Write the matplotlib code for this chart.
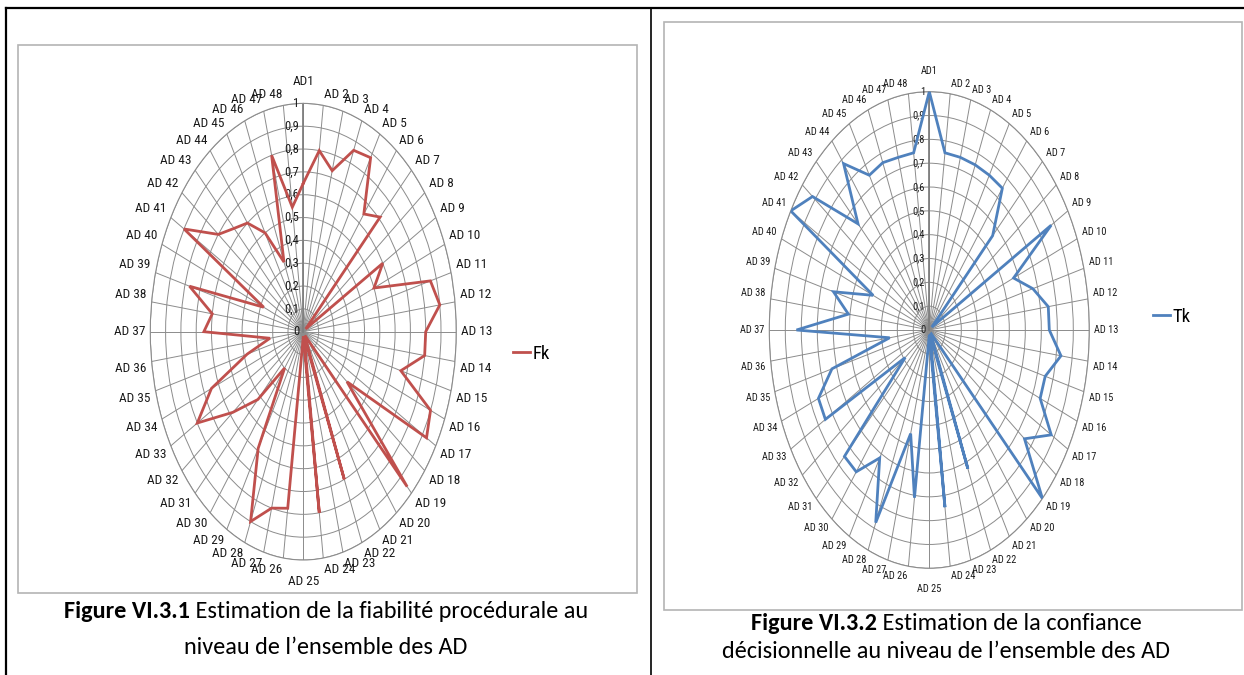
import numpy as np
import matplotlib
matplotlib.use("Agg")
import matplotlib.pyplot as plt
from matplotlib import font_manager
from matplotlib.lines import Line2D
from matplotlib.patches import Rectangle

# ---------------- data ----------------
categories = ["AD1"] + [f"AD {i}" for i in range(2, 49)]
fk_values = [0.65, 0.80, 0.73, 0.86, 0.88, 0.65, 0.71, 0.02, 0.60, 0.50,
             0.86, 0.90, 0.80, 0.80, 0.66, 0.90, 0.93, 0.36, 0.96, 0.03,
             0.02, 0.70, 0.02, 0.80, 0.02, 0.78, 0.80, 0.90, 0.59, 0.20,
             0.42, 0.58, 0.80, 0.65, 0.38, 0.22, 0.65, 0.60, 0.77, 0.28,
             0.90, 0.70, 0.64, 0.60, 0.50, 0.33, 0.80, 0.55]
tk_values = [1.00, 0.75, 0.75, 0.75, 0.75, 0.75, 0.56, 0.02, 0.88, 0.57,
             0.67, 0.75, 0.75, 0.83, 0.75, 0.75, 0.88, 0.75, 1.00, 0.02,
             0.02, 0.63, 0.02, 0.75, 0.02, 0.71, 0.45, 0.875, 0.62, 0.75,
             0.75, 0.19, 0.75, 0.75, 0.63, 0.25, 0.83, 0.51, 0.62, 0.38,
             1.00, 0.92, 0.63, 0.88, 0.75, 0.76, 0.75, 0.75]
radial_ticks = [0, 0.1, 0.2, 0.3, 0.4, 0.5, 0.6, 0.7, 0.8, 0.9, 1]
radial_labels = ["0", "0,1", "0,2", "0,3", "0,4", "0,5", "0,6", "0,7", "0,8", "0,9", "1"]
caption_left = ("Figure VI.3.1", " Estimation de la fiabilité procédurale au",
                "niveau de l\u2019ensemble des AD")
caption_right = ("Figure VI.3.2", " Estimation de la confiance",
                 "décisionnelle au niveau de l\u2019ensemble des AD")

# ---------------- fonts ----------------
available = {f.name for f in font_manager.fontManager.ttflist}
narrow = None
for cand in ["Liberation Sans Narrow", "DejaVu Sans Condensed", "Noto Sans Condensed",
             "Roboto Condensed", "Open Sans Condensed"]:
    if cand in available:
        narrow = cand
        break
if narrow is None:
    narrow = "DejaVu Sans"
    scale = 0.78
else:
    scale = 1.0
capfont = "Carlito" if "Carlito" in available else "Lato"

W, H = 1244, 675
fig = plt.figure(figsize=(W / 100, H / 100), dpi=100)
fig.patch.set_facecolor("white")


def fx(px):
    return px / W


def fy(py):
    return 1 - py / H


# table lines and chart boxes
overlay = fig.add_axes([0, 0, 1, 1], zorder=-5)
overlay.set_xlim(0, W)
overlay.set_ylim(H, 0)
overlay.axis("off")
overlay.plot([6, W], [8, 8], color="black", lw=1.6)
overlay.plot([6, 6], [8, H], color="black", lw=1.6)
overlay.plot([651, 651], [8, H], color="black", lw=1.2)
overlay.add_patch(Rectangle((18, 45), 619, 548, fill=False, ec="#B4B4B4", lw=1.2))
overlay.add_patch(Rectangle((664, 22), 578, 588, fill=False, ec="#B4B4B4", lw=1.2))


def radar(cx, cy, rx, ry, values, color, name, fs_lab, fs_tick, legend_xy, legend_fs):
    ax = fig.add_axes([fx(cx - rx), fy(cy + ry), rx * 2 / W, ry * 2 / H],
                      projection="polar")
    ax.set_aspect("auto")
    ax.set_theta_zero_location("N")
    ax.set_theta_direction(-1)
    n = len(categories)
    theta = np.arange(n) * 2 * np.pi / n
    ax.set_ylim(0, 1)
    ax.set_xticks(theta)
    ax.set_xticklabels([])
    ax.set_yticks(radial_ticks[1:])
    ax.set_yticklabels([])
    ax.grid(True, color="#8C8C8C", lw=0.7)
    ax.spines["polar"].set_color("#8C8C8C")
    ax.spines["polar"].set_linewidth(0.8)
    ax.tick_params(length=0)
    ax.plot([0, 0], [0, 1], color="#7F7F7F", lw=1.3, zorder=2)
    ax.set_facecolor("none")
    tt = np.append(theta, theta[0])
    vv = np.append(values, values[0])
    ax.plot(tt, vv, color=color, lw=2.0, zorder=4, label=name,
            solid_joinstyle="miter")
    # category labels
    for t, lab in zip(theta, categories):
        s, c = np.sin(t), np.cos(t)
        ha = "left" if s > 0.05 else ("right" if s < -0.05 else "center")
        va = "bottom" if c > 0.05 else ("top" if c < -0.05 else "center")
        off = 11 if abs(s) < 0.05 else 3.5
        ax.annotate(lab, xy=(t, 1.0), xytext=(off * s, off * c),
                    textcoords="offset points", ha=ha, va=va,
                    fontsize=fs_lab * scale, family=narrow, color="#1A1A1A",
                    annotation_clip=False)
    # radial tick labels
    for r, lab in zip(radial_ticks, radial_labels):
        ax.annotate(lab, xy=(0, r), xytext=(-3, 0), textcoords="offset points",
                    ha="right", va="center", fontsize=fs_tick * scale, family=narrow,
                    color="#1A1A1A", annotation_clip=False)
    ax.legend(handles=[Line2D([0], [0], color=color, lw=2.0)], labels=[name],
              loc="center left", bbox_to_anchor=(fx(legend_xy[0]), fy(legend_xy[1])),
              bbox_transform=fig.transFigure, frameon=False,
              handlelength=0.9, handletextpad=0.15, borderpad=0, borderaxespad=0,
              prop={"family": narrow, "size": legend_fs * scale})
    return ax


radar(303.3, 331.7, 153, 228.3, fk_values, "#C0504D", "Fk", 9.5, 9, (513, 354), 13.5)
radar(929.3, 330.0, 160, 238.3, tk_values, "#4F81BD", "Tk", 7.5, 7.5, (1153, 317), 13.5)


def caption(xc, y1, y2, parts, fs):
    bold, rest, line2 = parts
    t1 = fig.text(0, 0, bold, fontsize=fs, fontweight="bold", family=capfont)
    t2 = fig.text(0, 0, rest, fontsize=fs, family=capfont)
    fig.canvas.draw()
    r = fig.canvas.get_renderer()
    w1 = t1.get_window_extent(r).width
    w2 = t2.get_window_extent(r).width
    x0 = xc - (w1 + w2) / 2
    t1.set_position((fx(x0), fy(y1)))
    t1.set_va("center")
    t2.set_position((fx(x0 + w1), fy(y1)))
    t2.set_va("center")
    fig.text(fx(xc), fy(y2), line2, fontsize=fs, family=capfont,
             ha="center", va="center")


caption(326, 611, 648, caption_left, 17.5)
caption(946, 623, 651, caption_right, 17.5)

fig.savefig("out.png", dpi=100, facecolor="white")
